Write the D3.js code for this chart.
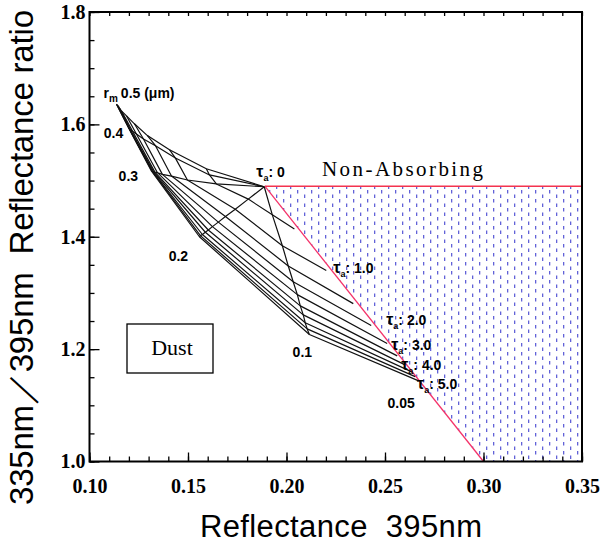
<!DOCTYPE html>
<html>
<head>
<meta charset="utf-8">
<script src="https://cdn.jsdelivr.net/npm/d3@7"></script>
<style>
body { margin: 0; background: #fff; }
</style>
</head>
<body>
<div id="chart"></div>
<script>
// optical depth steps along each particle size curve
var tauValues = [0, 0.5, 1.0, 1.5, 2.0, 2.5, 3.0, 3.5, 4.0, 4.5, 5.0];
var rmValues = [0.05, 0.1, 0.2, 0.3, 0.4, 0.5];
var rmLabels = ["0.05", "0.1", "0.2", "0.3", "0.4", "0.5"];
var tauLabels = ["0", "1.0", "2.0", "3.0", "4.0", "5.0"];
var tauLabelIdx = [0, 2, 4, 6, 8, 10];

// reflectance 395nm and ratio 335/395 for each r_m, one value per tau
var refl005 = [0.1887, 0.2040, 0.2202, 0.2339, 0.2430, 0.2511, 0.2562, 0.2602, 0.2633, 0.2653, 0.2668];
var ratio005 = [1.489, 1.414, 1.340, 1.281, 1.242, 1.210, 1.188, 1.172, 1.160, 1.151, 1.144];
var refl01 = [0.1887, 0.1928, 0.1979, 0.2009, 0.2034, 0.2055, 0.2070, 0.2085, 0.2095, 0.2105, 0.2116];
var ratio01 = [1.489, 1.439, 1.384, 1.348, 1.320, 1.297, 1.277, 1.261, 1.247, 1.236, 1.226];
var refl02 = [0.1887, 0.1806, 0.1740, 0.1690, 0.1654, 0.1624, 0.1603, 0.1588, 0.1573, 0.1563, 0.1558];
var ratio02 = [1.489, 1.467, 1.449, 1.436, 1.426, 1.418, 1.412, 1.408, 1.404, 1.402, 1.400];
var refl03 = [0.1887, 0.1644, 0.1497, 0.1416, 0.1370, 0.1345, 0.1332, 0.1325, 0.1319, 0.1317, 0.1314];
var ratio03 = [1.489, 1.494, 1.501, 1.508, 1.511, 1.514, 1.515, 1.516, 1.517, 1.517, 1.517];
var refl04 = [0.1887, 0.1609, 0.1436, 0.1335, 0.1274, 0.1238, 0.1218, 0.1208, 0.1203, 0.1200, 0.1198];
var ratio04 = [1.489, 1.510, 1.540, 1.562, 1.574, 1.583, 1.588, 1.590, 1.592, 1.593, 1.594];
var refl05 = [0.1887, 0.1593, 0.1406, 0.1294, 0.1228, 0.1188, 0.1162, 0.1152, 0.1145, 0.1139, 0.1137];
var ratio05 = [1.489, 1.521, 1.555, 1.580, 1.601, 1.615, 1.624, 1.629, 1.633, 1.635, 1.636];

// non-absorbing region corners
var nonAbsX = [0.189, 0.35, 0.35, 0.30];
var nonAbsY = [1.49, 1.49, 1.0, 1.0];

function base() {
    var w = 604, h = 544;
    var reflAll = [refl005, refl01, refl02, refl03, refl04, refl05];
    var ratioAll = [ratio005, ratio01, ratio02, ratio03, ratio04, ratio05];

    // grid[i][j] = point for rmValues[i], tauValues[j]
    var grid = rmValues.map(function(rm, i) {
        return tauValues.map(function(t, j) {
            return {rm: rm, tau: t, x: reflAll[i][j], y: ratioAll[i][j]};
        });
    });

    var x = d3.scaleLinear().domain([0.10, 0.35]).range([89.5, 582]);
    var y = d3.scaleLinear().domain([1.0, 1.8]).range([461.5, 12]);

    var svg = d3.select("#chart").append("svg")
        .attr("width", w).attr("height", h);

    var defs = svg.append("defs");
    var pat = defs.append("pattern")
        .attr("id", "hatch")
        .attr("patternUnits", "userSpaceOnUse")
        .attr("width", 14).attr("height", 18);
    [[3, 1], [3, 10], [10, 5.5], [10, 14.5]].forEach(function(p) {
        pat.append("rect")
            .attr("x", p[0]).attr("y", p[1])
            .attr("width", 1.3).attr("height", 3.5)
            .attr("fill", "#6262d8");
    });

    // hatched non-absorbing area
    var poly = nonAbsX.map(function(v, i) { return [x(v), y(nonAbsY[i])]; });
    svg.append("polygon")
        .attr("points", poly.map(function(p) { return p.join(","); }).join(" "))
        .attr("fill", "url(#hatch)");

    svg.append("line")
        .attr("x1", x(nonAbsX[0])).attr("y1", y(nonAbsY[0]))
        .attr("x2", x(nonAbsX[1])).attr("y2", y(nonAbsY[1]))
        .attr("stroke", "#f4334f").attr("stroke-width", 1.4);
    svg.append("line")
        .attr("x1", x(nonAbsX[0])).attr("y1", y(nonAbsY[0]))
        .attr("x2", x(nonAbsX[3])).attr("y2", y(nonAbsY[3]))
        .attr("stroke", "#f4336a").attr("stroke-width", 1.3);

    var line = d3.line()
        .x(function(d) { return x(d.x); })
        .y(function(d) { return y(d.y); });

    var mesh = svg.append("g")
        .attr("fill", "none")
        .attr("stroke", "#111")
        .attr("stroke-width", 1.2)
        .attr("stroke-linejoin", "round");

    // constant r_m curves (0.05 one lies under the red line, not drawn)
    mesh.selectAll(".rm")
        .data(grid.slice(1))
        .enter().append("path")
        .attr("class", "rm")
        .attr("d", line);

    // constant tau curves
    var tauLines = tauValues.slice(1).map(function(t, k) {
        return grid.map(function(row) { return row[k + 1]; });
    });
    mesh.selectAll(".tau")
        .data(tauLines)
        .enter().append("path")
        .attr("class", "tau")
        .attr("d", line);

    // axes
    var ax = svg.append("g").attr("font-family", "'Liberation Serif', serif");

    ax.append("g")
        .attr("transform", "translate(0," + y(1.0) + ")")
        .call(d3.axisBottom(x).tickValues(d3.range(0.10, 0.355, 0.01)).tickSize(-5).tickFormat(""));
    ax.append("g")
        .attr("transform", "translate(0," + y(1.0) + ")")
        .call(d3.axisBottom(x).tickValues([0.10, 0.15, 0.20, 0.25, 0.30, 0.35])
            .tickSize(-9).tickPadding(17).tickFormat(d3.format(".2f")));
    ax.append("g")
        .attr("transform", "translate(0," + y(1.8) + ")")
        .call(d3.axisTop(x).tickValues(d3.range(0.10, 0.355, 0.01)).tickSize(-4).tickFormat(""));
    ax.append("g")
        .attr("transform", "translate(" + x(0.10) + ",0)")
        .call(d3.axisLeft(y).tickValues(d3.range(1.0, 1.801, 0.05)).tickSize(-5).tickFormat(""));
    ax.append("g")
        .attr("transform", "translate(" + x(0.10) + ",0)")
        .call(d3.axisLeft(y).tickValues([1.0, 1.2, 1.4, 1.6, 1.8])
            .tickSize(-10).tickPadding(4).tickFormat(d3.format(".1f")));

    ax.selectAll(".domain").remove();
    ax.selectAll("line").attr("stroke", "#000").attr("stroke-width", 1.3);
    ax.selectAll("text")
        .attr("font-size", 20).attr("font-weight", "bold").attr("fill", "#000")
        .attr("font-family", "'Liberation Serif', serif");

    svg.append("rect")
        .attr("x", x(0.10)).attr("y", y(1.8))
        .attr("width", x(0.35) - x(0.10)).attr("height", y(1.0) - y(1.8))
        .attr("fill", "none").attr("stroke", "#000").attr("stroke-width", 2);

    // axis titles
    svg.append("text")
        .attr("x", 200).attr("y", 537)
        .attr("font-family", "'Liberation Sans', Arial, sans-serif")
        .attr("font-size", 31)
        .attr("textLength", 282)
        .attr("xml:space", "preserve")
        .text("Reflectance  395nm");
    svg.append("text")
        .attr("transform", "translate(33,505) rotate(-90)")
        .attr("font-family", "'Liberation Sans', Arial, sans-serif")
        .attr("font-size", 33)
        .attr("textLength", 495)
        .attr("xml:space", "preserve")
        .text("335nm／395nm  Reflectance ratio");

    // annotations
    var ann = svg.append("g")
        .attr("font-family", "'Liberation Sans', Arial, sans-serif")
        .attr("font-weight", "bold")
        .attr("font-size", 14)
        .attr("fill", "#000");

    var last = tauValues.length - 1;
    var rmOff = [[-17, 27], [-7, 22], [-21, 24], [-23, 10], [-15, 10]];
    rmLabels.slice(0, 5).forEach(function(lab, i) {
        var p = grid[i][last];
        ann.append("text")
            .attr("x", x(p.x) + rmOff[i][0]).attr("y", y(p.y) + rmOff[i][1])
            .attr("text-anchor", "middle")
            .text(lab);
    });
    var tip = grid[5][last];
    var t5 = ann.append("text")
        .attr("x", x(tip.x) - 13).attr("y", y(tip.y) - 6);
    t5.append("tspan").text("r");
    t5.append("tspan").attr("font-size", 10).attr("dy", 4).text("m");
    t5.append("tspan").attr("dy", -4).attr("dx", 3).text("0.5 (μm)");

    var tauOff = [[-8, -10], [7, 3], [15, -1], [-6, -6], [-10, -2], [-1, 8]];
    tauLabels.forEach(function(lab, k) {
        var p = grid[0][tauLabelIdx[k]];
        var t = ann.append("text")
            .attr("x", x(p.x) + tauOff[k][0]).attr("y", y(p.y) + tauOff[k][1]);
        t.append("tspan").attr("font-size", 16).text("τ");
        t.append("tspan").attr("font-size", 9).attr("dy", 4).text("a");
        t.append("tspan").attr("dy", -4).text(": " + lab);
    });

    svg.append("text")
        .attr("x", 322).attr("y", 176)
        .attr("font-family", "'Liberation Serif', serif")
        .attr("font-size", 21)
        .attr("textLength", 161)
        .text("Non-Absorbing");

    svg.append("rect")
        .attr("x", 127).attr("y", 324).attr("width", 86).attr("height", 49)
        .attr("fill", "none").attr("stroke", "#000").attr("stroke-width", 1.3);
    svg.append("text")
        .attr("x", 172).attr("y", 355)
        .attr("text-anchor", "middle")
        .attr("font-family", "'Liberation Serif', serif")
        .attr("font-size", 22)
        .text("Dust");
}

window.onload = base;
</script>
</body>
</html>
